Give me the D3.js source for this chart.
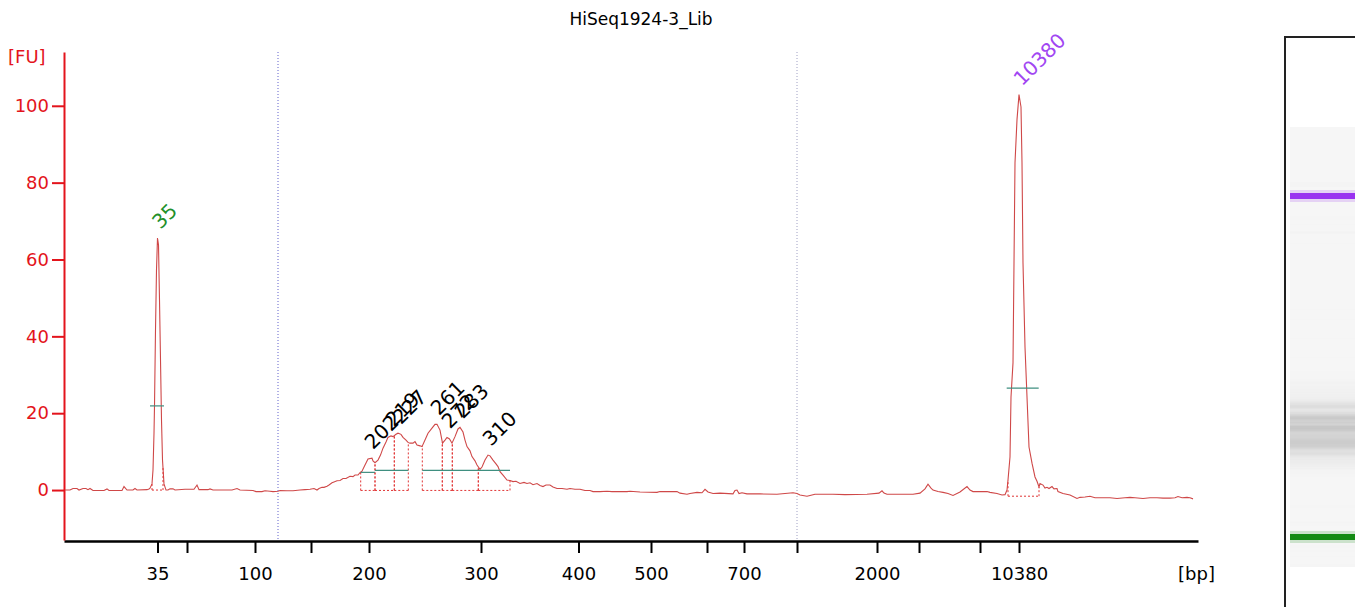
<!DOCTYPE html>
<html>
<head>
<meta charset="utf-8">
<script src="https://cdn.jsdelivr.net/npm/d3@7"></script>
<style>
  body { margin: 0; background: #fff; }
  svg { display: block; font-family: "DejaVu Sans", Verdana, sans-serif; }
</style>
</head>
<body>
<svg id="chart" width="1355" height="607"></svg>
<script>
const title = "HiSeq1924-3_Lib";

// electropherogram: [migration time (s), fluorescence (FU)]
const trace = [
  [0.1, 0], [0.6, 0], [0.9, 0.4], [1.3, 0.4], [1.5, 0], [1.9, 0.4], [2.2, 0.4], [2.4, 0.1],
  [2.6, 0.4], [2.9, -0.1], [4.0, -0.1], [4.3, 0.3], [4.5, -0.1], [5.8, -0.1], [6.0, 0.9],
  [6.3, 0], [6.9, 0], [7.1, 0.4], [7.3, 0], [8.3, 0.1], [8.5, 0.3],
  [8.6, 0.5], [8.8, 1.6], [8.9, 5.2], [9.0, 14.8], [9.05, 21.9], [9.15, 41.7], [9.25, 57.3],
  [9.35, 65.6], [9.45, 63.8], [9.55, 49.5], [9.65, 33.9], [9.75, 18.2], [9.85, 7.8],
  [10.0, 1.6], [10.2, 0], [10.4, 0], [10.6, 0.3], [10.9, 0.3], [11.1, 0], [12.1, 0.2],
  [13.0, 0.2], [13.3, 1.3], [13.5, 0.1], [14.4, 0.1], [14.6, 0.3], [14.9, 0], [16.8, 0],
  [17.3, 0.4], [17.6, 0], [18.9, -0.1], [19.2, -0.4], [19.8, -0.4], [20.1, -0.2], [20.6, -0.3],
  [20.9, -0.4], [21.4, -0.3], [21.6, -0.1], [22.3, -0.2], [22.9, -0.2], [23.6, 0], [24.1, 0.1],
  [24.6, 0.2], [25.0, 0.4], [25.3, 0], [25.5, 0.4], [25.8, 0.7], [26.0, 0.7], [26.3, 1.0],
  [26.5, 1.3], [26.8, 1.9], [27.0, 2.1], [27.3, 2.4], [27.6, 2.5], [27.9, 3.0], [28.2, 3.0],
  [28.6, 3.6], [28.9, 3.5], [29.1, 3.9], [29.4, 3.9], [29.6, 4.5], [29.8, 4.9], [30.1, 6.5],
  [30.4, 8.1], [30.8, 8.3], [30.9, 7.6], [31.1, 7.1], [31.4, 7.8], [31.65, 9.1], [31.9, 10.9],
  [32.2, 12.5], [32.4, 13.7], [32.7, 14.1], [32.9, 13.9], [33.2, 14.5], [33.4, 14.8],
  [33.7, 14.5], [33.9, 13.7], [34.2, 13.0], [34.4, 12.4], [34.6, 12.2], [34.9, 12.2],
  [35.1, 12.6], [35.3, 11.7], [35.6, 11.5], [35.8, 11.3], [36.1, 13.0], [36.4, 14.8],
  [36.8, 16.1], [37.1, 17.1], [37.3, 17.1], [37.6, 15.6], [37.85, 12.2], [38.1, 13.0],
  [38.3, 13.7], [38.55, 13.3], [38.8, 12.2], [39.1, 13.9], [39.4, 15.9], [39.6, 16.3],
  [39.9, 15.1], [40.1, 13.0], [40.3, 11.3], [40.6, 10.2], [40.8, 8.7], [41.1, 7.6],
  [41.3, 6.5], [41.6, 5.4], [41.8, 6.0], [42.1, 7.8], [42.4, 9.1], [42.6, 8.9], [42.9, 7.8],
  [43.2, 6.8], [43.4, 6.1], [43.6, 4.8], [43.9, 3.9], [44.3, 2.6], [44.6, 2.5], [44.9, 2.2],
  [45.2, 2.3], [45.6, 1.7], [46.0, 2.0], [46.3, 1.7], [46.6, 1.9], [46.9, 1.4], [47.3, 1.7],
  [47.6, 1.2], [47.9, 0.9], [48.2, 1.3], [48.6, 1.3], [48.9, 0.8], [49.3, 0.4], [49.8, 0.4],
  [50.3, 0.2], [50.6, 0.4], [51.1, 0.2], [51.6, 0.2], [52.1, -0.1], [52.6, -0.1], [52.9, -0.4],
  [53.6, -0.4], [54.3, -0.3], [54.8, -0.4], [55.6, -0.4], [56.3, -0.4], [56.6, -0.3],
  [57.6, -0.5], [59.3, -0.6], [59.6, -0.4], [61.3, -0.4], [61.6, -0.8], [62.3, -1.1],
  [62.6, -0.9], [63.3, -0.6], [63.8, -0.7], [64.1, 0.2], [64.4, -0.5], [64.9, -0.9],
  [65.6, -0.8], [66.9, -1.0], [67.1, -0.1], [67.3, 0.0], [67.5, -0.9], [67.8, -0.7],
  [68.3, -1.0], [69.6, -1.0], [71.3, -1.1], [72.1, -0.9], [72.9, -0.7], [73.3, -0.9],
  [73.6, -1.3], [74.3, -1.6], [75.1, -1.1], [76.9, -1.1], [78.1, -1.2], [80.3, -1.1],
  [81.5, -0.8], [81.8, -0.2], [82.0, -0.8], [82.3, -1.1], [83.6, -1.1], [84.9, -1.1],
  [85.6, -0.8], [86.1, 0.3], [86.4, 1.5], [86.7, 0.5], [86.9, 0.0], [87.4, -0.4], [87.9, -0.6],
  [88.4, -0.9], [88.9, -1.4], [89.6, -0.5], [90.3, 0.9], [90.6, 0.0], [90.9, -0.4],
  [91.6, -0.4], [92.3, -0.4], [92.6, -0.6], [93.3, -0.9], [93.8, -1.3], [94.1, -1.2],
  [94.3, 0.0], [94.4, 2.6], [94.6, 8.6], [94.7, 24.2], [94.9, 33.1], [95.0, 59.1], [95.1, 85.2],
  [95.3, 96.4], [95.5, 102.9], [95.7, 99.7], [95.8, 85.2], [95.9, 59.1], [96.1, 37.2],
  [96.3, 24.2], [96.5, 11.2], [96.8, 7.0], [97.1, 3.4], [97.3, 2.3], [97.5, 0.8], [97.6, 1.7],
  [97.9, 1.3], [98.1, 0.5], [98.3, 0.7], [98.5, 0.4], [98.8, 0.9], [99.0, 0.3], [99.3, 0.4],
  [99.4, -0.4], [99.9, -0.9], [100.6, -1.3], [101.3, -2.2], [101.6, -1.9], [102.1, -1.8],
  [102.6, -1.6], [103.1, -2.0], [103.6, -2.0], [104.1, -2.0], [104.6, -2.0], [105.3, -2.2],
  [106.1, -2.0], [106.6, -1.9], [107.1, -2.0], [107.9, -2.2], [108.6, -2.0], [109.3, -2.0],
  [109.9, -2.1], [110.6, -2.1], [111.1, -2.0], [111.4, -1.7], [111.8, -2.0], [112.3, -1.9],
  [112.6, -2.0], [112.9, -2.3]
];

// ladder sizes and their migration times
const ladderBp    = [35, 50, 100, 150, 200, 300, 400, 500, 600, 700, 1000, 2000, 3000, 7000, 10380];
const ladderTime  = [9.35, 12.3, 19.1, 24.7, 30.5, 41.7, 51.45, 58.7, 64.3, 68.0, 73.3, 81.3, 85.5, 91.6, 95.5];
const ladderShown = [35, 100, 200, 300, 400, 500, 700, 2000, 10380];

const fuTicks = [0, 20, 40, 60, 80, 100];

// called peaks
const peakLabels = ["35", "202", "219", "227", "261", "272", "283", "310", "10380"];
const peakTime   = [9.35, 30.6, 32.7, 33.4, 37.2, 38.3, 39.6, 42.4, 95.5];
const peakFU     = [65.6, 8.3, 14.1, 14.8, 17.1, 13.7, 16.3, 9.1, 102.9];
const peakStart  = [8.8, 29.67, 31.1, 33.03, 35.83, 37.83, 38.83, 41.43, 94.4];
const peakEnd    = [9.9, 31.1, 33.03, 34.43, 37.83, 38.83, 41.43, 44.6, 97.5];
const peakBase   = [0, -0.1, -0.1, -0.1, -0.1, -0.1, -0.1, -0.1, -1.6];

// peak width levels
const levelStart = [8.6, 29.67, 31.1, 35.83, 94.27];
const levelEnd   = [10.0, 31.1, 34.43, 44.6, 97.47];
const levelFU    = [21.9, 4.6, 5.1, 5.1, 26.5];

// smear region limits
const regionTime = [21.4, 73.3];

const lowerMarker = "35", upperMarker = "10380";

const svg = d3.select("#chart");
const x = d3.scaleLinear().domain([0, 113.4]).range([64, 1198]);
const y = d3.scaleLinear().domain([-13, 114]).range([540, 52]);

const bis = d3.bisector(d => d[0]).left;
function fuAt(t) {
  const i = Math.max(1, Math.min(trace.length - 1, bis(trace, t)));
  const a = trace[i - 1], b = trace[i];
  return a[1] + (b[1] - a[1]) * (t - a[0]) / (b[0] - a[0]);
}

svg.append("text")
  .attr("x", 641).attr("y", 25)
  .attr("text-anchor", "middle")
  .style("font-size", "17px")
  .text(title);

// region lines
regionTime.forEach((t, i) => {
  svg.append("line")
    .attr("x1", x(t)).attr("x2", x(t))
    .attr("y1", 52).attr("y2", 541)
    .style("stroke", i === 0 ? "#6262cc" : "#a0a0c4")
    .style("stroke-width", 1)
    .style("stroke-dasharray", "1,2");
});

// axes
const xAxis = svg.append("g")
  .attr("transform", "translate(0,541)")
  .call(d3.axisBottom(x)
    .tickValues(ladderTime)
    .tickSize(12).tickSizeOuter(0).tickPadding(14)
    .tickFormat((d, i) => ladderShown.includes(ladderBp[i]) ? ladderBp[i] : ""));
xAxis.attr("font-family", null).attr("font-size", null);
xAxis.select(".domain").style("stroke", "#000").style("stroke-width", 2.5);
xAxis.selectAll(".tick line").style("stroke", "#000").style("stroke-width", 2);
xAxis.selectAll(".tick text").style("font-size", "18px").style("fill", "#000");

const yAxis = svg.append("g")
  .attr("transform", "translate(64,0)")
  .call(d3.axisLeft(y).tickValues(fuTicks).tickSize(12).tickSizeOuter(0).tickPadding(3));
yAxis.attr("font-family", null).attr("font-size", null);
yAxis.select(".domain").style("stroke", "#e3141c").style("stroke-width", 2);
yAxis.selectAll(".tick line").style("stroke", "#e3141c").style("stroke-width", 2);
yAxis.selectAll(".tick text").style("font-size", "18px").style("fill", "#e3141c");

svg.append("text").attr("x", 8).attr("y", 63)
  .style("font-size", "18px").style("fill", "#e3141c").text("[FU]");
svg.append("text").attr("x", 1215).attr("y", 580).attr("text-anchor", "end")
  .style("font-size", "18px").style("fill", "#000").text("[bp]");

// trace
svg.append("path")
  .datum(trace)
  .attr("d", d3.line().x(d => x(d[0])).y(d => y(d[1])))
  .style("fill", "none")
  .style("stroke", "#cf4848")
  .style("stroke-width", 1.1);

// peak windows
const pk = svg.append("g")
  .style("stroke", "#e03434").style("stroke-width", 1).style("stroke-dasharray", "2,2").style("fill", "none");
peakLabels.forEach((p, i) => {
  const b = y(peakBase[i]);
  pk.append("line").attr("x1", x(peakStart[i])).attr("x2", x(peakEnd[i])).attr("y1", b).attr("y2", b);
  [peakStart[i], peakEnd[i]].forEach(t => {
    pk.append("line").attr("x1", x(t)).attr("x2", x(t)).attr("y1", b).attr("y2", y(fuAt(t)));
  });
});

// width levels
levelFU.forEach((v, i) => {
  svg.append("line")
    .attr("x1", x(levelStart[i])).attr("x2", x(levelEnd[i]))
    .attr("y1", y(v)).attr("y2", y(v))
    .style("stroke", "#3f8f80").style("stroke-width", 1.2);
});

// peak labels
peakLabels.forEach((p, i) => {
  const px = x(peakTime[i]) + 3, py = y(peakFU[i]) - 8;
  svg.append("text")
    .attr("transform", `translate(${px},${py}) rotate(-45)`)
    .style("font-size", "20px")
    .style("fill", p === lowerMarker ? "#22902a" : p === upperMarker ? "#a146f2" : "#000")
    .text(p);
});

// gel lane
const gy = d3.scaleLinear().domain([peakTime[0], peakTime[peakTime.length - 1]]).range([537, 196]);
svg.append("rect").attr("x", 1285).attr("y", 37).attr("width", 100).attr("height", 600)
  .style("fill", "#fff");
svg.append("clipPath").attr("id", "lane")
  .append("rect").attr("x", 1290).attr("y", 127).attr("width", 70).attr("height", 440);
const lane = svg.append("g").attr("clip-path", "url(#lane)");
lane.append("rect").attr("x", 1290).attr("y", 127).attr("width", 70).attr("height", 440)
  .style("fill", "#f6f6f6");
const gray = d3.scaleLinear().domain([0, 18]).range(["#f6f6f6", "#c2c2c2"]).clamp(true);
const inMarker = t => (t >= peakStart[0] - 0.3 && t <= peakEnd[0] + 0.3) ||
  (t >= peakStart[8] - 0.3 && t <= peakEnd[8] + 0.3);
for (let i = 0; i < trace.length - 1; i++) {
  const t0 = trace[i][0], t1 = trace[i + 1][0];
  if (inMarker(t0) || inMarker(t1)) continue;
  lane.append("rect")
    .attr("x", 1290).attr("width", 70)
    .attr("y", gy(t1)).attr("height", gy(t0) - gy(t1) + 0.6)
    .style("fill", gray((trace[i][1] + trace[i + 1][1]) / 2));
}
[[0, "#138a13"], [8, "#9a32f0"]].forEach(([i, c]) => {
  const cy = gy(peakTime[i]);
  lane.append("rect").attr("x", 1290).attr("width", 70).attr("y", cy - 6).attr("height", 12)
    .style("fill", c).style("opacity", 0.18);
  lane.append("rect").attr("x", 1290).attr("width", 70).attr("y", cy - 3).attr("height", 6)
    .style("fill", c);
});
svg.append("rect").attr("x", 1285).attr("y", 37).attr("width", 100).attr("height", 600)
  .style("fill", "none").style("stroke", "#222").style("stroke-width", 2);
</script>
</body>
</html>
